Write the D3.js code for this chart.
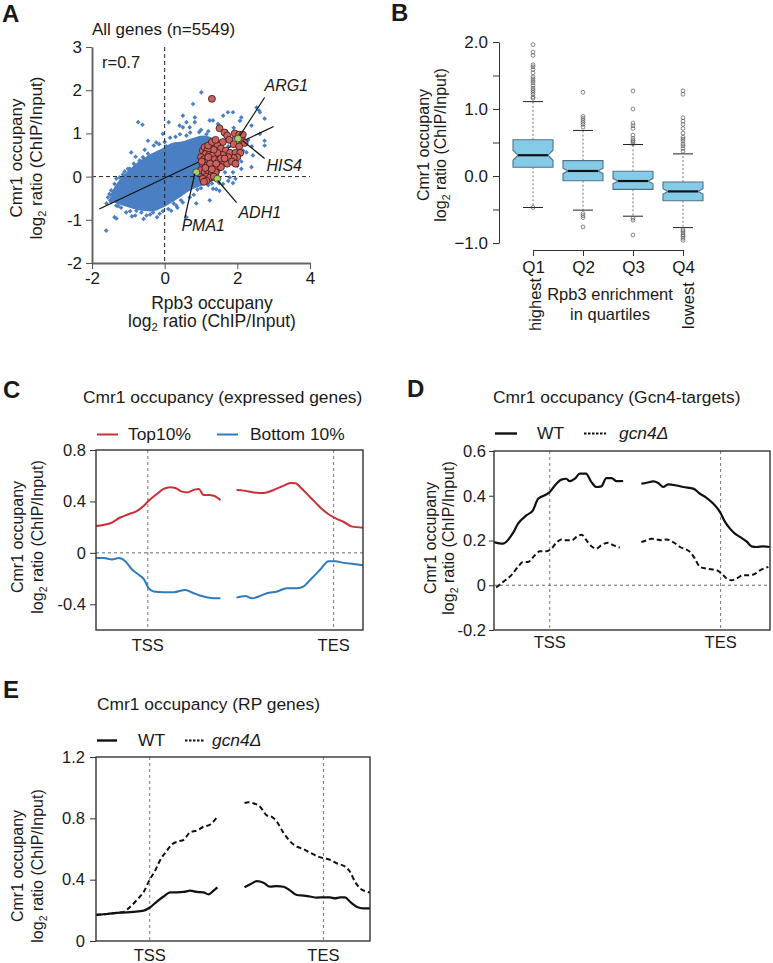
<!DOCTYPE html>
<html><head><meta charset="utf-8">
<script src="https://cdn.jsdelivr.net/npm/d3@7"></script>
<style>
body{margin:0;background:#fff}
text{font-family:"Liberation Sans",Arial,Helvetica,sans-serif;fill:#1a1a1a}
</style>
</head><body>
<svg id="chart" width="773" height="963"></svg>
<script>
// ---------------- DATA ----------------
// Panel A: scatter (log2 Rpb3 vs log2 Cmr1). Dense core outline + individual outlying genes
const aXTicks = [-2, 0, 2, 4];
const aYTicks = [-2, -1, 0, 1, 2, 3];
const aCore = [[-1.5,-0.5],[-1.42,-0.3],[-1.22,-0.05],[-0.98,0.16],[-0.7,0.36],[-0.4,0.52],[-0.1,0.64],[0.2,0.78],[0.5,0.82],[0.8,0.9],[1.05,0.95],[1.3,0.9],[1.5,0.75],[1.6,0.5],[1.55,0.15],[1.38,-0.08],[1.1,-0.18],[0.7,-0.32],[0.35,-0.52],[0.0,-0.7],[-0.3,-0.8],[-0.7,-0.78],[-1.05,-0.7],[-1.38,-0.6]];
const aBlue = [[-1.61,-1.25],[-1.38,-0.94],[-1.33,-0.97],[-1.56,-0.48],[-1.47,-0.59],[-1.33,-0.67],[-1.52,-0.4],[-1.38,-0.17],[-1.33,-0.05],[-1.06,-0.83],[-0.78,-0.79],[-0.64,-0.83],[-0.81,-0.9],[-0.58,-0.98],[-0.32,-0.83],[-0.21,-0.94],[-0.14,-0.86],[0.18,-0.79],[0.32,-0.67],[0.6,-0.94],[0.69,-0.48],[0.87,-0.62],[1.24,-0.55],[1.33,-0.28],[1.42,-0.29],[1.51,-0.33],[1.61,-0.17],[1.79,-0.02],[1.88,-0.15],[1.88,0.1],[2.11,0.18],[2.39,0.22],[2.11,0.35],[2.16,0.6],[2.25,0.56],[2.43,0.49],[2.62,0.99],[2.75,0.83],[2.75,0.72],[2.39,1.18],[2.53,1.6],[2.6,1.53],[2.62,1.49],[2.75,1.34],[2.11,1.37],[2.07,1.29],[1.88,1.49],[1.9,1.13],[1.74,1.49],[1.61,1.41],[1.47,1.22],[1.33,1.3],[1.24,1.3],[1.01,1.95],[0.78,1.68],[0.83,1.37],[0.83,1.26],[0.6,1.26],[0.5,1.41],[0.5,1.14],[0.41,1.18],[0.69,1.14],[0.11,1.26],[-0.05,0.99],[-0.23,0.79],[-0.46,0.83],[-0.73,1.26],[-0.61,1.2],[-0.92,0.56],[-0.69,0.37],[-0.46,0.53],[-0.96,0.18],[-1.01,0.18],[-1.24,-0.02],[-1.47,-0.32],[-0.3,0.72],[0.0,0.8],[0.3,0.92],[0.6,0.95],[1.0,1.08],[1.2,1.05],[-0.85,0.3],[-1.15,0.05],[-1.5,-0.55],[-1.2,-0.72],[-0.5,-0.9],[0.1,-0.75],[0.5,-0.6],[0.9,-0.3],[1.2,-0.2],[1.5,-0.15],[1.7,0.3],[1.75,0.7],[1.9,0.9],[1.7,1.05],[2.3,0.85],[2.4,0.7],[1.95,-0.05],[1.66,0.1],[1.75,-0.1],[2.0,0.25],
  [-1.1,0.12],[-0.8,0.46],[-0.55,0.62],[-0.15,0.75],[0.15,0.9],[0.42,0.98],[0.7,1.02],[0.95,1.03],[1.15,0.98],[1.42,0.86],[-1.28,-0.3],[-1.45,-0.44],[-1.28,-0.68],[-0.95,-0.8],[-0.4,-0.88],[-0.05,-0.8],[0.25,-0.62],[0.45,-0.55],[0.8,-0.42],[1.0,-0.27],[1.3,-0.16],[-0.6,0.45],[0.05,0.7],[-1.6,-0.62],[-0.9,-0.92],[0.35,-0.72]];
const aRed = [[1.51,1.12],[1.65,1.02],[1.72,0.95],[1.78,0.85],[1.93,1.0],[2.05,0.97],[2.15,0.97],[2.15,0.82],[2.2,0.78],[1.9,0.75],[2.05,0.7],[1.6,0.8],[1.45,0.72],[1.55,0.65],[1.68,0.6],[1.8,0.55],[1.95,0.55],[2.08,0.55],[2.0,0.45],[1.9,0.43],[1.75,0.45],[1.6,0.5],[1.45,0.55],[1.35,0.62],[1.05,0.6],[1.1,0.68],[1.18,0.62],[1.12,0.52],[1.22,0.5],[1.3,0.48],[1.0,0.45],[1.08,0.4],[1.18,0.38],[1.28,0.35],[1.38,0.4],[1.5,0.38],[1.62,0.32],[1.72,0.3],[1.05,0.28],[1.15,0.25],[1.25,0.22],[1.35,0.25],[1.45,0.2],[1.55,0.22],[1.0,0.15],[1.1,0.1],[1.2,0.12],[1.3,0.08],[1.4,0.1],[1.15,0.0],[1.25,-0.02],[1.05,-0.05],[1.35,0.0],[1.15,-0.1],[1.25,0.3],[1.2,0.45],[1.12,0.2],[1.3,0.17],[1.42,0.3],[1.55,0.42],[1.65,0.42],[1.85,0.35],[1.95,0.3],[1.2,0.72],[1.3,0.8],[1.4,0.85],[1.02,0.35],[1.08,-0.12],[1.3,1.8]];
const aGreen = [[0.87,0.1],[1.45,-0.05],[2.02,0.88]];
const aRegression = [[-1.8,-0.75],[3.0,1.16]];
const aLabels = ["ARG1","HIS4","ADH1","PMA1"];
const aLabelPos = [[2.75,1.97],[2.8,0.12],[2.03,-0.96],[0.46,-1.25]];
const aLeaders = [[[2.75,1.83],[2.07,0.95]],[[2.75,0.42],[2.15,0.83]],[[1.98,-0.6],[1.46,-0.09]],[[0.55,-0.97],[0.83,0.07]]];

// Panel B: notched box plots by Rpb3 quartile
const bGroups = ["Q1","Q2","Q3","Q4"];
const bLower = [0.13,-0.07,-0.2,-0.37];
const bMedian = [0.31,0.075,-0.075,-0.23];
const bUpper = [0.54,0.23,0.07,-0.09];
const bWhiskLo = [-0.47,-0.51,-0.6,-0.77];
const bWhiskHi = [1.11,0.68,0.47,0.33];
const bNotch = [0.075,0.04,0.04,0.04];
const bOutliers = [
  [1.96,1.85,1.80,1.66,1.63,1.59,1.54,1.48,1.45,1.42,1.39,1.35,1.31,1.28,1.25,1.22,1.18,1.16,-0.47],
  [1.25,0.89,0.86,0.83,0.80,0.77,0.73,-0.56,-0.59,-0.62,-0.76],
  [1.27,1.0,0.79,0.75,0.71,0.61,0.56,0.53,0.51,0.48,-0.63,-0.66,-0.88],
  [1.27,1.22,0.87,0.82,0.77,0.71,0.64,0.58,0.55,0.52,0.48,0.45,0.41,0.37,-0.8,-0.82,-0.85,-0.88,-0.9,-0.93,-0.96]
];
const bYTicks = [-1,-0.5,0,0.5,1,1.5,2];

// Panel C: metagene (x = % of plotted window; null = gap)
const cTop = [[0,0.209],[5.4,0.23],[9.1,0.275],[12.2,0.30],[15.4,0.327],[17.9,0.366],[19.7,0.405],[22.8,0.458],[25.3,0.497],[27.8,0.51],[29.7,0.505],[32.2,0.476],[34.1,0.47],[36.6,0.49],[38.5,0.497],[40.3,0.45],[42.2,0.45],[44.1,0.444],[46.6,0.41],[49,null],
  [52.6,0.489],[55.3,0.484],[59.1,0.47],[62.8,0.465],[66.5,0.489],[70.3,0.523],[72.8,0.544],[74.7,0.541],[77.2,0.497],[80.3,0.431],[84.0,0.353],[87.1,0.30],[89.6,0.27],[92.8,0.24],[95.9,0.204],[100,0.196]];
const cBottom = [[0,-0.04],[2.9,-0.04],[6.0,-0.052],[8.5,-0.04],[11.0,-0.065],[13.5,-0.13],[16.0,-0.17],[17.9,-0.204],[19.7,-0.275],[21.6,-0.30],[25.3,-0.306],[29.1,-0.306],[33.5,-0.288],[36.6,-0.314],[40.3,-0.34],[44.1,-0.353],[46.6,-0.353],[49,null],
  [52.6,-0.348],[55.9,-0.335],[58.4,-0.353],[60.9,-0.34],[64.0,-0.314],[67.8,-0.30],[71.5,-0.275],[75.3,-0.275],[77.8,-0.26],[80.9,-0.196],[84.0,-0.13],[87.1,-0.065],[89.6,-0.065],[92.8,-0.078],[96.5,-0.086],[100,-0.097]];
const cNames = ["Top10%","Bottom 10%"];
const cTicks = [-0.4,0,0.4,0.8];
const cMarks = [19.4, 89.0];

// Panel D
const dWT = [[0,0.193],[3.3,0.186],[6.9,0.234],[8.7,0.275],[11.7,0.312],[14.1,0.335],[16.0,0.387],[18.4,0.402],[20.2,0.417],[22.6,0.454],[24.4,0.472],[26.2,0.476],[27.4,0.465],[29.3,0.476],[31.1,0.499],[33.3,0.499],[35.3,0.461],[37.1,0.439],[38.9,0.442],[40.7,0.479],[42.6,0.479],[44.4,0.465],[46.8,0.466],[50,null],
  [53.4,0.454],[55.3,0.458],[57.7,0.464],[59.5,0.457],[61.3,0.439],[63.1,0.451],[66.1,0.446],[68.6,0.439],[72.2,0.432],[74.6,0.409],[77.0,0.391],[79.4,0.365],[81.9,0.327],[83.7,0.283],[85.5,0.253],[87.3,0.231],[89.1,0.216],[91.5,0.196],[93.3,0.174],[95.2,0.171],[97.6,0.174],[100,0.171]];
const dGcn4 = [[0.8,-0.01],[3.3,0.015],[6.3,0.045],[8.7,0.082],[10.5,0.104],[12.3,0.104],[14.8,0.134],[16.6,0.152],[19.0,0.152],[20.8,0.164],[22.6,0.19],[24.4,0.205],[26.2,0.201],[28.1,0.201],[29.9,0.216],[31.7,0.226],[33.5,0.201],[35.3,0.174],[37.1,0.164],[38.9,0.179],[41.4,0.19],[43.2,0.179],[45.6,0.168],[50,null],
  [53.4,0.193],[55.3,0.201],[57.1,0.208],[58.9,0.205],[60.7,0.201],[62.5,0.205],[64.9,0.193],[67.4,0.171],[71.0,0.149],[72.8,0.119],[74.6,0.082],[77.0,0.074],[80.7,0.067],[82.5,0.052],[84.3,0.03],[86.1,0.022],[87.9,0.03],[90.3,0.045],[92.1,0.045],[94.0,0.048],[96.4,0.067],[99.4,0.082]];
const dTicks = [-0.2,0,0.2,0.4,0.6];
const dMarks = [20.2, 82.1];
const genoNames = ["WT","gcn4\u0394"];

// Panel E
const eWT = [[0,0.17],[4.0,0.176],[8.9,0.185],[13.7,0.19],[17.4,0.198],[19.8,0.22],[22.2,0.257],[24.7,0.29],[27.1,0.317],[29.5,0.317],[32.0,0.32],[34.4,0.328],[36.8,0.32],[39.2,0.317],[41.1,0.304],[42.9,0.328],[44.3,0.35],[49,null],
  [54.2,0.35],[56.3,0.37],[58.7,0.39],[61.1,0.38],[63.5,0.354],[66.0,0.358],[68.4,0.354],[70.8,0.33],[73.3,0.30],[75.7,0.296],[78.1,0.29],[80.6,0.283],[83.0,0.285],[85.4,0.285],[87.2,0.278],[89.1,0.285],[90.9,0.285],[92.7,0.256],[95.1,0.224],[97.6,0.213],[100,0.213]];
const eGcn4 = [[0,0.17],[4.0,0.176],[7.7,0.185],[10.1,0.19],[12.5,0.224],[14.9,0.267],[17.4,0.32],[19.6,0.40],[21.6,0.46],[23.5,0.53],[25.9,0.59],[27.7,0.63],[30.1,0.65],[32.0,0.66],[34.4,0.71],[36.8,0.72],[39.2,0.745],[41.7,0.76],[44.3,0.81],[49,null],
  [54.2,0.90],[55.7,0.905],[57.5,0.898],[59.9,0.876],[62.3,0.82],[64.2,0.81],[66.0,0.778],[68.4,0.707],[70.8,0.65],[73.3,0.615],[75.7,0.60],[78.1,0.576],[80.6,0.554],[83.0,0.54],[85.4,0.53],[87.8,0.507],[90.9,0.485],[92.7,0.452],[94.5,0.387],[96.4,0.343],[98.8,0.322],[100,0.317]];
const eTicks = [0,0.4,0.8,1.2];
const eMarks = [19.6, 83.0];
const markNames = ["TSS","TES"];

// ---------------- DRAW ----------------
const FONT = '"Liberation Sans",Arial,sans-serif';
const svg = d3.select("#chart");
svg.append("rect").attr("width",773).attr("height",963).attr("fill","#fff");

function panelLetter(t,x,y){
  svg.append("text").attr("x",x).attr("y",y).attr("font-size",24).attr("font-weight","bold").text(t);
}
function log2Text(sel, fs){
  sel.append("tspan").text("log");
  sel.append("tspan").attr("font-size",fs*0.65).attr("dy",4).text("2");
  sel.append("tspan").attr("dy",-4).text(" ratio (ChIP/Input)");
}
function yLabel(cy, b1, b2, fs){
  const g = svg.append("g").attr("transform",`translate(0,${cy}) rotate(-90)`);
  g.append("text").attr("x",0).attr("y",b1).attr("text-anchor","middle").attr("font-size",fs).text("Cmr1 occupany");
  log2Text(g.append("text").attr("x",0).attr("y",b2).attr("text-anchor","middle").attr("font-size",fs), fs);
}

// ===== Panel A =====
const xA = d3.scaleLinear([-2,4],[92,310]);
const yA = d3.scaleLinear([-2,3],[263,47]);
panelLetter("A",2,22);
svg.append("text").attr("x",92).attr("y",35).attr("font-size",17).text("All genes (n=5549)");
svg.append("text").attr("x",102).attr("y",68).attr("font-size",16.5).text("r=0.7");

svg.append("path").datum(aCore)
  .attr("d", d3.line().x(d=>xA(d[0])).y(d=>yA(d[1])).curve(d3.curveCatmullRomClosed))
  .attr("fill","#4b7fc4");
const diamond = d3.symbol(d3.symbolSquare, 11);
svg.append("g").selectAll("path").data(aBlue).join("path")
  .attr("d", diamond)
  .attr("transform", d=>`translate(${xA(d[0])},${yA(d[1])}) rotate(45)`)
  .attr("fill","#4b7fc4");
svg.append("line").attr("x1",xA(0)).attr("x2",xA(0)).attr("y1",yA(3)).attr("y2",yA(-2))
  .attr("stroke","#222").attr("stroke-width",1).attr("stroke-dasharray","4,3");
svg.append("line").attr("x1",xA(-2)).attr("x2",xA(4)).attr("y1",yA(0)).attr("y2",yA(0))
  .attr("stroke","#222").attr("stroke-width",1).attr("stroke-dasharray","4,3");
svg.append("path").datum(aRegression)
  .attr("d", d3.line().x(d=>xA(d[0])).y(d=>yA(d[1])))
  .attr("stroke","#111").attr("stroke-width",1.3).attr("fill","none");
svg.append("g").selectAll("circle").data(aRed).join("circle")
  .attr("cx",d=>xA(d[0])).attr("cy",d=>yA(d[1])).attr("r",3.5)
  .attr("fill","#c9615d").attr("stroke","#3b1414").attr("stroke-width",0.8);
svg.append("g").selectAll("circle").data(aGreen).join("circle")
  .attr("cx",d=>xA(d[0])).attr("cy",d=>yA(d[1])).attr("r",3.5)
  .attr("fill","#a5cf6c").attr("stroke","#2f3d1a").attr("stroke-width",0.8);
svg.append("g").selectAll("path").data(aLeaders).join("path")
  .attr("d", d3.line().x(d=>xA(d[0])).y(d=>yA(d[1])))
  .attr("stroke","#111").attr("stroke-width",1.2).attr("fill","none");
svg.append("g").selectAll("text").data(aLabels).join("text")
  .attr("x",(d,i)=>xA(aLabelPos[i][0])).attr("y",(d,i)=>yA(aLabelPos[i][1]))
  .attr("font-size",16).attr("font-style","italic").text(d=>d);
const axA1 = svg.append("g").attr("transform",`translate(92,0)`)
  .call(d3.axisLeft(yA).tickValues(aYTicks).tickFormat(d=>String(d)).tickSize(6).tickSizeOuter(0).tickPadding(4));
const axA2 = svg.append("g").attr("transform",`translate(0,263)`)
  .call(d3.axisBottom(xA).tickValues(aXTicks).tickFormat(d=>String(d)).tickSize(6).tickSizeOuter(0).tickPadding(3));
[axA1,axA2].forEach(a=>{
  a.select(".domain").attr("stroke","#666").attr("stroke-width",2);
  a.selectAll(".tick line").attr("stroke","#555");
  a.selectAll(".tick text").attr("font-size",17).attr("fill","#1a1a1a").attr("font-family",FONT);
});
svg.append("text").attr("x",212).attr("y",309).attr("text-anchor","middle").attr("font-size",17.5).text("Rpb3 occupany");
log2Text(svg.append("text").attr("x",212).attr("y",327).attr("text-anchor","middle").attr("font-size",17.5), 17.5);
yLabel(158,21.5,41.5,17);

// ===== Panel B =====
const xB = d3.scalePoint(bGroups,[533,683]);
const yB = d3.scaleLinear([-1,2],[243,42]);
panelLetter("B",391,21);
const bw = 20;
bGroups.forEach((q,i)=>{
  const cx = xB(q);
  const g = svg.append("g");
  g.append("line").attr("x1",cx).attr("x2",cx).attr("y1",yB(bUpper[i])).attr("y2",yB(bWhiskHi[i]))
    .attr("stroke","#777").attr("stroke-width",1).attr("stroke-dasharray","2,2");
  g.append("line").attr("x1",cx).attr("x2",cx).attr("y1",yB(bLower[i])).attr("y2",yB(bWhiskLo[i]))
    .attr("stroke","#777").attr("stroke-width",1).attr("stroke-dasharray","2,2");
  [bWhiskHi[i],bWhiskLo[i]].forEach(v=>{
    g.append("line").attr("x1",cx-10).attr("x2",cx+10).attr("y1",yB(v)).attr("y2",yB(v))
      .attr("stroke","#222").attr("stroke-width",1);
  });
  const ins = 5;
  const pts = [
    [cx-bw, yB(bUpper[i])],[cx+bw, yB(bUpper[i])],
    [cx+bw, yB(bMedian[i]+bNotch[i])],[cx+bw-ins, yB(bMedian[i])],[cx+bw, yB(bMedian[i]-bNotch[i])],
    [cx+bw, yB(bLower[i])],[cx-bw, yB(bLower[i])],
    [cx-bw, yB(bMedian[i]-bNotch[i])],[cx-bw+ins, yB(bMedian[i])],[cx-bw, yB(bMedian[i]+bNotch[i])]
  ];
  g.append("path").attr("d", d3.line()(pts)+"Z").attr("fill","#85cbe8").attr("stroke","#4f7385").attr("stroke-width",1.1);
  g.append("line").attr("x1",cx-bw+ins).attr("x2",cx+bw-ins).attr("y1",yB(bMedian[i])).attr("y2",yB(bMedian[i]))
    .attr("stroke","#111").attr("stroke-width",2.2);
  g.selectAll("circle").data(bOutliers[i]).join("circle")
    .attr("cx",cx).attr("cy",d=>yB(d)).attr("r",1.9)
    .attr("fill","none").attr("stroke","#555").attr("stroke-width",0.7);
});
const axB1 = svg.append("g").attr("transform","translate(499,0)")
  .call(d3.axisLeft(yB).tickValues(bYTicks).tickFormat(d=> Number.isInteger(d) ? d3.format(".1f")(d) : "").tickSize(6).tickSizeOuter(0).tickPadding(5));
const axB2 = svg.append("g").attr("transform","translate(0,250)")
  .call(d3.axisBottom(xB).tickSize(6).tickSizeOuter(0).tickPadding(5));
[axB1,axB2].forEach(a=>{
  a.select(".domain").attr("stroke","#333").attr("stroke-width",1);
  a.selectAll(".tick line").attr("stroke","#333");
  a.selectAll(".tick text").attr("font-size",17).attr("fill","#1a1a1a").attr("font-family",FONT);
});
svg.append("text").attr("x",610).attr("y",300).attr("text-anchor","middle").attr("font-size",16.5).text("Rpb3 enrichment");
svg.append("text").attr("x",610).attr("y",320).attr("text-anchor","middle").attr("font-size",16.5).text("in quartiles");
svg.append("text").attr("transform","translate(540.5,331) rotate(-90)").attr("font-size",16.5).text("highest");
svg.append("text").attr("transform","translate(693.5,329) rotate(-90)").attr("font-size",16.5).text("lowest");
{
  const g = svg.append("g").attr("transform","translate(0,145) rotate(-90)");
  g.append("text").attr("y",428.5).attr("text-anchor","middle").attr("font-size",16).text("Cmr1 occupany");
  log2Text(g.append("text").attr("y",445.5).attr("text-anchor","middle").attr("font-size",16), 16);
}

// ===== Profile panels =====
function profile(o){
  const x = d3.scaleLinear([0,100],[o.x0,o.x1]);
  const y = d3.scaleLinear(o.yDom,[o.yb,o.yt]);
  const g = svg.append("g");
  o.marks.forEach(m=>{
    g.append("line").attr("x1",x(m)).attr("x2",x(m)).attr("y1",o.yt).attr("y2",o.yb)
      .attr("stroke","#555").attr("stroke-width",0.8).attr("stroke-dasharray","3,3");
  });
  if(o.zero){
    g.append("line").attr("x1",o.x0).attr("x2",o.x1).attr("y1",y(0)).attr("y2",y(0))
      .attr("stroke","#444").attr("stroke-width",0.8).attr("stroke-dasharray","3,3");
  }
  const line = d3.line().defined(d=>d[1]!=null).x(d=>x(d[0])).y(d=>y(d[1])).curve(d3.curveMonotoneX);
  o.series.forEach(s=>{
    g.append("path").datum(s.data).attr("d",line).attr("fill","none")
      .attr("stroke",s.color).attr("stroke-width",s.width).attr("stroke-dasharray",s.dash||null)
      .attr("stroke-linejoin","round");
  });
  g.append("rect").attr("x",o.x0).attr("y",o.yt).attr("width",o.x1-o.x0).attr("height",o.yb-o.yt)
    .attr("fill","none").attr("stroke","#333").attr("stroke-width",1.4);
  const ax = svg.append("g").attr("transform",`translate(${o.x0},0)`)
    .call(d3.axisLeft(y).tickValues(o.ticks).tickFormat(d=>String(d)).tickSize(o.tickSize).tickSizeOuter(0).tickPadding(o.pad));
  ax.select(".domain").remove();
  ax.selectAll(".tick line").attr("stroke","#333");
  ax.selectAll(".tick text").attr("font-size",16.5).attr("fill","#1a1a1a").attr("font-family",FONT);
  markNames.forEach((n,i)=>{
    svg.append("text").attr("x",x(o.marks[i])).attr("y",o.markY).attr("text-anchor","middle").attr("font-size",16.5).text(n);
  });
  svg.append("text").attr("x",o.titleX).attr("y",o.titleY).attr("font-size",17.4).text(o.title);
  o.series.forEach((s,i)=>{
    const lx = o.legX[i];
    svg.append("line").attr("x1",lx).attr("x2",lx+o.legLen).attr("y1",o.legY-5.5).attr("y2",o.legY-5.5)
      .attr("stroke",s.color).attr("stroke-width",s.legW||2).attr("stroke-dasharray",s.legDash||null);
    svg.append("text").attr("x",o.legTX[i]).attr("y",o.legY).attr("font-size",17.4)
      .attr("font-style",s.italic?"italic":null).text(s.name);
  });
  yLabel(o.labY,o.lab1,o.lab2,16);
}

panelLetter("C",3,398);
profile({x0:96,x1:363,yt:450,yb:630,yDom:[-0.6,0.8],ticks:cTicks,tickSize:6,pad:4,zero:true,marks:cMarks,markY:651,
  title:"Cmr1 occupancy (expressed genes)",titleX:83,titleY:403,
  legY:440,legX:[97,217],legTX:[128,250],legLen:21,
  labY:537,lab1:23,lab2:43,
  series:[{data:cTop,color:"#cc2f36",width:2,name:cNames[0]},{data:cBottom,color:"#2e7cbf",width:2,name:cNames[1]}]});

panelLetter("D",407,397);
profile({x0:494,x1:770,yt:451,yb:630,yDom:[-0.2,0.6],ticks:dTicks,tickSize:5,pad:3,zero:true,marks:dMarks,markY:648,
  title:"Cmr1 occupancy (Gcn4-targets)",titleX:493,titleY:403,
  legY:439,legX:[495,584],legTX:[537,619],legLen:22,
  labY:538,lab1:436,lab2:454,
  series:[{data:dWT,color:"#111",width:2.2,name:genoNames[0],legW:2.4},
          {data:dGcn4,color:"#111",width:2,dash:"5,3",name:genoNames[1],italic:true,legDash:"2.5,1.5",legW:2}]});

panelLetter("E",3,698);
profile({x0:96,x1:370,yt:757,yb:941,yDom:[0,1.2],ticks:eTicks,tickSize:6,pad:5,zero:false,marks:eMarks,markY:961,
  title:"Cmr1 occupancy (RP genes)",titleX:97,titleY:710,
  legY:746,legX:[97,185],legTX:[138,212],legLen:20,
  labY:866,lab1:23,lab2:43,
  series:[{data:eWT,color:"#111",width:2.2,name:genoNames[0],legW:2.4},
          {data:eGcn4,color:"#111",width:2,dash:"5,3",name:genoNames[1],italic:true,legDash:"2.5,1.5",legW:2}]});
</script>
</body></html>
